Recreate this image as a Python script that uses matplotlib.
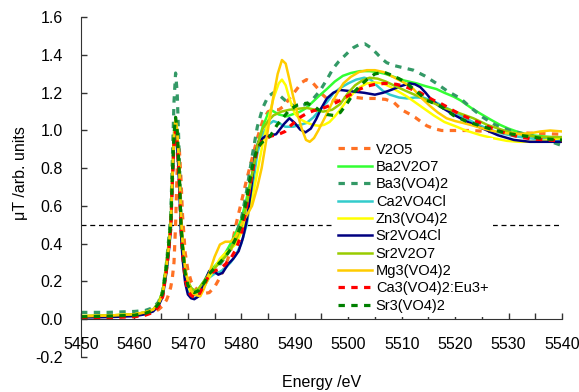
import matplotlib
matplotlib.use("Agg")
import matplotlib.pyplot as plt
from matplotlib.ticker import MultipleLocator

plt.rcParams['font.family'] = ['Liberation Sans', 'DejaVu Sans']

# ---------------- data ----------------
e_pre = [5450, 5455, 5460, 5462, 5463.5, 5464.5, 5465.3, 5466, 5466.4, 5466.8, 5467.1,
         5467.4, 5467.7, 5468.0, 5468.4, 5468.7, 5469.0, 5469.5, 5470, 5470.6, 5471.2]

labels = ["V2O5", "Ba2V2O7", "Ba3(VO4)2", "Ca2VO4Cl", "Zn3(VO4)2", "Sr2VO4Cl",
          "Sr2V2O7", "Mg3(VO4)2", "Ca3(VO4)2:Eu3+", "Sr3(VO4)2"]

# V2O5
v2o5_pre = [0.01, 0.012, 0.018, 0.025, 0.035, 0.05, 0.07, 0.1, 0.13, 0.17, 0.22,
            0.3, 0.5, 0.8, 0.9, 0.75, 0.55, 0.35, 0.26, 0.2, 0.17]
v2o5_e = [5472, 5473, 5474, 5475, 5476, 5477, 5478, 5479, 5480, 5481, 5482, 5483, 5484,
          5485, 5486, 5487, 5488, 5489, 5490.4, 5491.3, 5492.2, 5493.3, 5494.4, 5495.2,
          5496, 5497, 5498, 5499, 5500, 5501.5, 5503, 5505, 5507, 5508.5, 5510, 5511.3,
          5512.5, 5513.7, 5514.7, 5516, 5517.5, 5520, 5523, 5526, 5530, 5535, 5540]
v2o5_v = [0.15, 0.135, 0.14, 0.17, 0.22, 0.28, 0.36, 0.5, 0.62, 0.74, 0.85, 0.96, 1.05,
          1.1, 1.11, 1.11, 1.13, 1.17, 1.22, 1.255, 1.27, 1.255, 1.22, 1.19,
          1.17, 1.16, 1.16, 1.17, 1.18, 1.175, 1.17, 1.17, 1.165, 1.15, 1.11, 1.09,
          1.07, 1.045, 1.025, 1.01, 1.0, 1.0, 1.0, 0.995, 0.99, 0.985, 0.98]

# Ba2V2O7
ba2v2o7_pre = [0.015, 0.018, 0.025, 0.035, 0.05, 0.085, 0.15, 0.3, 0.4, 0.52, 0.77,
               0.97, 1.05, 0.98, 0.77, 0.53, 0.4, 0.26, 0.2, 0.165, 0.15]
ba2v2o7_e = [5472, 5473, 5474, 5475, 5476, 5477, 5478, 5479, 5480, 5481, 5482, 5483, 5484,
             5485, 5485.8, 5487, 5488.5, 5490, 5491, 5492.2, 5493.3, 5494.4, 5496, 5497.5,
             5499, 5500.5, 5502.2, 5504, 5505.5, 5507, 5508.5, 5510.5, 5512.8, 5514.5,
             5516.5, 5518, 5519.7, 5521, 5523, 5524.7, 5526.5, 5528.4, 5530, 5532, 5534,
             5536, 5538, 5540]
ba2v2o7_v = [0.16, 0.2, 0.25, 0.28, 0.31, 0.35, 0.4, 0.46, 0.53, 0.64, 0.77, 0.92, 1.02,
             1.09, 1.105, 1.085, 1.075, 1.09, 1.1, 1.12, 1.15, 1.18, 1.22, 1.26,
             1.29, 1.305, 1.315, 1.315, 1.31, 1.3, 1.285, 1.265, 1.25, 1.235,
             1.22, 1.2, 1.18, 1.16, 1.12, 1.09, 1.06, 1.03, 1.01, 0.99, 0.975,
             0.97, 0.965, 0.96]

# Ba3(VO4)2
ba3_pre = [0.035, 0.035, 0.04, 0.045, 0.06, 0.09, 0.15, 0.3, 0.42, 0.55, 0.85,
           1.15, 1.305, 1.2, 0.85, 0.55, 0.4, 0.25, 0.18, 0.145, 0.13]
ba3_e = [5472, 5473, 5474, 5475, 5476, 5477, 5478, 5479, 5480, 5481, 5482, 5483, 5484,
         5485, 5486, 5487, 5488, 5489, 5490, 5491, 5492.2, 5493.5, 5494.7, 5496, 5497.2,
         5498.2, 5499.1, 5500, 5501, 5502, 5503.1, 5504.2, 5505.3, 5506.3, 5507.2, 5508.5,
         5510, 5512.2, 5514.3, 5516.5, 5518.5, 5521, 5523, 5525.2, 5527.5, 5530.3, 5532.5,
         5534.6, 5537, 5540]
ba3_v = [0.14, 0.18, 0.23, 0.26, 0.29, 0.33, 0.38, 0.45, 0.53, 0.68, 0.86, 1.02, 1.12,
         1.18, 1.2, 1.19, 1.165, 1.14, 1.13, 1.13, 1.14, 1.17, 1.21, 1.27, 1.33,
         1.365, 1.39, 1.415, 1.44, 1.455, 1.46, 1.44, 1.41, 1.38, 1.36, 1.345,
         1.335, 1.32, 1.29, 1.25, 1.21, 1.17, 1.12, 1.07, 1.03, 1.0, 0.985,
         0.97, 0.95, 0.92]

# Ca2VO4Cl
ca2_pre = [0.012, 0.015, 0.02, 0.03, 0.045, 0.075, 0.13, 0.26, 0.36, 0.48, 0.72,
           0.92, 1.0, 0.93, 0.72, 0.48, 0.35, 0.21, 0.15, 0.12, 0.11]
ca2_e = [5472, 5473, 5474, 5475, 5476, 5477, 5478, 5479, 5480, 5481, 5482, 5483, 5484,
         5485, 5486, 5487, 5488.2, 5489.7, 5491, 5492.2, 5493.5, 5494.7, 5496, 5497.3,
         5498.5, 5500, 5501.5, 5503, 5504.2, 5505.3, 5506.5, 5507.8, 5509.5, 5511, 5512.5,
         5514, 5516, 5518.4, 5520, 5522, 5524, 5526, 5528, 5531, 5535, 5540]
ca2_v = [0.12, 0.17, 0.22, 0.24, 0.25, 0.27, 0.3, 0.34, 0.4, 0.5, 0.68, 0.88, 0.98,
         1.03, 1.05, 1.04, 1.02, 1.02, 1.03, 1.04, 1.07, 1.11, 1.15, 1.2,
         1.225, 1.25, 1.27, 1.28, 1.27, 1.24, 1.21, 1.19, 1.175, 1.17, 1.175,
         1.175, 1.155, 1.12, 1.095, 1.065, 1.035, 1.01, 0.99, 0.97, 0.955, 0.95]

# Zn3(VO4)2
zn3_pre = [0.015, 0.018, 0.025, 0.035, 0.05, 0.08, 0.14, 0.28, 0.38, 0.5, 0.75,
           0.96, 1.05, 0.97, 0.75, 0.5, 0.37, 0.23, 0.17, 0.14, 0.13]
zn3_e = [5472, 5473, 5474, 5475, 5476, 5477, 5478, 5479, 5480, 5481, 5482, 5483, 5484,
         5485, 5486, 5487, 5487.6, 5488.3, 5489, 5490, 5491, 5492, 5493.3, 5494.5, 5495.5,
         5496.5, 5497.5, 5498.5, 5499.5, 5501, 5502.2, 5503.5, 5505, 5506.5, 5508, 5509.5,
         5511, 5512.5, 5514, 5516, 5518, 5520.3, 5522, 5524.7, 5527, 5529.7, 5532, 5535,
         5537.5, 5540]
zn3_v = [0.13, 0.17, 0.22, 0.27, 0.32, 0.35, 0.37, 0.4, 0.46, 0.53, 0.63, 0.78, 0.93,
         1.05, 1.17, 1.25, 1.27, 1.24, 1.17, 1.09, 1.06, 1.045, 1.03, 1.025, 1.03,
         1.045, 1.075, 1.11, 1.15, 1.2, 1.23, 1.25, 1.255, 1.25, 1.23, 1.205,
         1.18, 1.15, 1.12, 1.08, 1.045, 1.02, 1.0, 0.976, 0.96, 0.945, 0.94, 0.94,
         0.95, 0.96]

# Sr2VO4Cl
sr2cl_pre = [0.008, 0.01, 0.015, 0.025, 0.04, 0.07, 0.12, 0.25, 0.35, 0.47, 0.72,
             0.92, 1.0, 0.92, 0.7, 0.46, 0.32, 0.19, 0.13, 0.11, 0.105]
sr2cl_e = [5472, 5473, 5474, 5475, 5475.7, 5476.5, 5477.5, 5478.5, 5479.5, 5480.3, 5481,
           5481.8, 5482.5, 5483.2, 5484.5, 5486.5, 5488, 5489, 5490, 5491, 5492, 5493,
           5494, 5495, 5496, 5497.2, 5498.5, 5500, 5501.5, 5503, 5505, 5506.5, 5508,
           5509.8, 5511.5, 5512.5, 5513.5, 5514.5, 5515.5, 5517, 5518.5, 5520, 5522, 5524,
           5526, 5528, 5531, 5534, 5537, 5540]
sr2cl_v = [0.12, 0.19, 0.255, 0.25, 0.235, 0.245, 0.29, 0.32, 0.36, 0.43, 0.52,
           0.68, 0.86, 0.94, 0.97, 0.98, 1.035, 1.065, 1.04, 1.005, 0.99, 1.01,
           1.06, 1.12, 1.17, 1.2, 1.215, 1.21, 1.205, 1.2, 1.19, 1.2, 1.215,
           1.235, 1.25, 1.245, 1.23, 1.2, 1.165, 1.13, 1.105, 1.08, 1.05, 1.025,
           1.0, 0.975, 0.95, 0.94, 0.94, 0.94]

# Sr2V2O7
sr2v2o7_pre = [0.015, 0.018, 0.025, 0.035, 0.05, 0.085, 0.15, 0.3, 0.4, 0.52, 0.78,
               0.99, 1.07, 1.0, 0.78, 0.53, 0.4, 0.26, 0.2, 0.165, 0.15]
sr2v2o7_e = [5472, 5473, 5474, 5475, 5476, 5477, 5478, 5479, 5480, 5481, 5482, 5483, 5484,
             5485, 5486, 5487.5, 5489, 5490.5, 5492.2, 5493.8, 5495.3, 5497, 5498.5, 5500,
             5501.3, 5502.6, 5504, 5505.5, 5507, 5508.5, 5510, 5512, 5514, 5516, 5518, 5520,
             5523.4, 5526, 5529.7, 5533, 5536, 5540]
sr2v2o7_v = [0.16, 0.2, 0.24, 0.27, 0.3, 0.33, 0.37, 0.42, 0.49, 0.6, 0.76, 0.92, 1.01,
             1.05, 1.08, 1.1, 1.11, 1.115, 1.12, 1.11, 1.1, 1.11, 1.14, 1.2,
             1.24, 1.265, 1.28, 1.275, 1.26, 1.24, 1.22, 1.195, 1.17, 1.145, 1.12, 1.1,
             1.065, 1.03, 0.995, 0.975, 0.965, 0.965]

# Mg3(VO4)2
mg3_pre = [0.015, 0.018, 0.025, 0.035, 0.05, 0.08, 0.13, 0.27, 0.37, 0.49, 0.74,
           0.95, 1.05, 1.0, 0.8, 0.56, 0.42, 0.27, 0.2, 0.15, 0.13]
mg3_e = [5472.3, 5473, 5473.5, 5474.3, 5475, 5476, 5477, 5478, 5479, 5480, 5481, 5482,
         5483, 5483.8, 5484.5, 5485.3, 5486, 5486.8, 5487.6, 5488.3, 5489, 5489.7, 5490.5,
         5491.3, 5492.1, 5492.8, 5493.6, 5494.4, 5495.3, 5496.2, 5497.2, 5498.2, 5499.1,
         5500.5, 5502, 5503.5, 5505, 5506.6, 5508, 5509.7, 5511, 5512.2, 5513.8, 5515.3,
         5516.8, 5518.4, 5520, 5521.5, 5523.5, 5525.3, 5527.5, 5529.7, 5532, 5534, 5536,
         5537.8, 5540]
mg3_v = [0.12, 0.16, 0.2, 0.27, 0.33, 0.395, 0.41, 0.41, 0.44, 0.5, 0.55, 0.6,
         0.7, 0.8, 0.92, 1.06, 1.18, 1.3, 1.374, 1.355, 1.27, 1.18, 1.09,
         1.01, 0.95, 0.94, 0.96, 1.0, 1.05, 1.1, 1.16, 1.21, 1.25,
         1.285, 1.31, 1.32, 1.32, 1.31, 1.29, 1.265, 1.245, 1.22, 1.17, 1.13,
         1.095, 1.065, 1.05, 1.04, 1.025, 1.01, 0.995, 0.985, 0.982, 0.985, 0.995,
         1.0, 0.995]

# Ca3(VO4)2:Eu3+
ca3eu_pre = [0.005, 0.007, 0.012, 0.02, 0.035, 0.065, 0.12, 0.26, 0.36, 0.48, 0.73,
             0.93, 1.0, 0.93, 0.72, 0.48, 0.34, 0.21, 0.15, 0.125, 0.115]
ca3eu_e = [5472, 5473, 5474, 5475, 5476, 5477, 5478, 5479, 5480, 5481, 5482, 5483, 5484,
           5485.5, 5487, 5488.2, 5489, 5490, 5491, 5492.2, 5493.5, 5495, 5497.2, 5498.5,
           5499.7, 5501, 5502.2, 5503.5, 5505, 5507, 5509, 5510.5, 5512.2, 5513.5, 5514.7,
           5516, 5517.2, 5518.5, 5519.7, 5521, 5522.2, 5524.7, 5527, 5529, 5532, 5534.6,
           5537, 5540]
ca3eu_v = [0.125, 0.18, 0.235, 0.255, 0.265, 0.29, 0.32, 0.37, 0.45, 0.6, 0.77, 0.9, 0.95,
           0.97, 0.98, 0.995, 1.02, 1.045, 1.07, 1.09, 1.105, 1.115, 1.14, 1.16,
           1.18, 1.2, 1.22, 1.235, 1.245, 1.25, 1.245, 1.235, 1.215, 1.2, 1.18,
           1.16, 1.145, 1.125, 1.105, 1.085, 1.07, 1.04, 1.01, 0.99, 0.965, 0.955,
           0.95, 0.945]

# Sr3(VO4)2
sr3_pre = [0.012, 0.015, 0.02, 0.03, 0.045, 0.08, 0.14, 0.28, 0.39, 0.51, 0.76,
           0.98, 1.07, 1.0, 0.77, 0.51, 0.38, 0.24, 0.18, 0.15, 0.14]
sr3_e = [5472, 5473, 5474, 5475, 5476, 5477, 5478, 5479, 5480, 5481, 5482, 5483, 5484,
         5485.4, 5486.7, 5487.9, 5489, 5490.5, 5492.2, 5493.5, 5494.7, 5496, 5497.2, 5498.5,
         5499.7, 5501.3, 5502.5, 5503.5, 5505, 5506.6, 5508, 5509.5, 5511, 5512.2, 5513.5,
         5514.7, 5516, 5517.2, 5518.5, 5519.7, 5522, 5524.7, 5527, 5529.7, 5532, 5534.6,
         5537, 5540]
sr3_v = [0.15, 0.19, 0.24, 0.27, 0.3, 0.33, 0.37, 0.43, 0.5, 0.64, 0.8, 0.91, 0.94,
         0.97, 1.03, 1.07, 1.11, 1.135, 1.145, 1.13, 1.105, 1.085, 1.08, 1.095,
         1.14, 1.21, 1.245, 1.27, 1.3, 1.31, 1.295, 1.275, 1.25, 1.22, 1.19,
         1.16, 1.145, 1.13, 1.105, 1.08, 1.05, 1.025, 1.005, 0.985, 0.975, 0.965,
         0.955, 0.95]

ref_level = 0.5

# ---------------- styles ----------------
series = [
    (v2o5_pre, v2o5_e, v2o5_v, '#FF7124', 'dot'),
    (ba2v2o7_pre, ba2v2o7_e, ba2v2o7_v, '#33FF33', 'solid'),
    (ba3_pre, ba3_e, ba3_v, '#339966', 'dot'),
    (ca2_pre, ca2_e, ca2_v, '#33CCCC', 'solid'),
    (zn3_pre, zn3_e, zn3_v, '#FFFF00', 'solid'),
    (sr2cl_pre, sr2cl_e, sr2cl_v, '#000080', 'solid'),
    (sr2v2o7_pre, sr2v2o7_e, sr2v2o7_v, '#99CC00', 'solid'),
    (mg3_pre, mg3_e, mg3_v, '#FFCC00', 'solid'),
    (ca3eu_pre, ca3eu_e, ca3eu_v, '#FF0000', 'dot'),
    (sr3_pre, sr3_e, sr3_v, '#008000', 'dot'),
]

fig = plt.figure(figsize=(5.79, 3.92), dpi=100)
ax = fig.add_axes([0.1399, 0.0901, 0.8307, 0.8655])

for lab, (pre, ee, vv, col, sty) in zip(labels, series):
    x = e_pre + ee
    y = pre + vv
    if sty == 'dot':
        ax.plot(x, y, color=col, lw=2.3, linestyle=(0, (2.0, 2.0)), label=lab)
    else:
        ax.plot(x, y, color=col, lw=1.8, linestyle='-', label=lab)

ax.axhline(ref_level, color='black', lw=0.9, linestyle=(0, (4, 3)), zorder=1)

ax.set_xlim(5450, 5540)
ax.set_ylim(-0.2, 1.6)
ax.spines['top'].set_visible(False)
ax.spines['right'].set_visible(False)
ax.spines['bottom'].set_position(('data', 0))
ax.spines['bottom'].set_color('#333333')
ax.spines['left'].set_color('#333333')

ax.xaxis.set_major_locator(MultipleLocator(10))
ax.xaxis.set_minor_locator(MultipleLocator(5))
ax.yaxis.set_major_locator(MultipleLocator(0.2))
ax.yaxis.set_major_formatter(matplotlib.ticker.FormatStrFormatter('%.1f'))
ax.tick_params(axis='both', which='both', direction='in', length=4, width=1,
               color='#333333', labelsize=11.5, pad=13)

ax.set_xlabel('Energy /eV', fontsize=11.5)
ax.set_ylabel('μT /arb. units', fontsize=11.5)
ax.xaxis.set_label_coords(0.5, -0.055)
ax.yaxis.set_label_coords(-0.11, 0.54)

leg = ax.legend(loc='upper left', bbox_to_anchor=(0.525, 0.644), borderaxespad=0,
                fontsize=10.5, frameon=True, facecolor='white', edgecolor='none',
                framealpha=1, fancybox=False, labelspacing=0.23, handlelength=2.35,
                handletextpad=0.25, borderpad=0.3)

fig.savefig('out.png', dpi=100)
